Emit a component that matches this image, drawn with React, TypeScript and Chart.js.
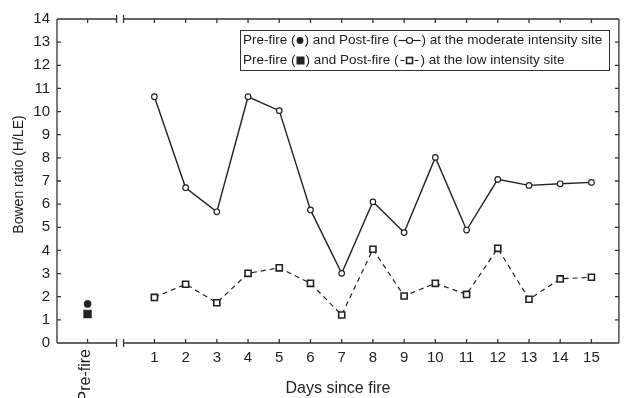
import React, { useEffect, useRef } from "react";
import { Chart, registerables } from "chart.js";

Chart.register(...registerables);

// ---- data ----
const DAYS = [1, 2, 3, 4, 5, 6, 7, 8, 9, 10, 11, 12, 13, 14, 15];
const MODERATE_POST = [10.64, 6.71, 5.67, 10.64, 10.04, 5.75, 3.01, 6.1, 4.77, 8.02, 4.88, 7.07, 6.81, 6.88, 6.94];
const LOW_POST = [1.97, 2.54, 1.74, 3.01, 3.25, 2.58, 1.21, 4.05, 2.03, 2.58, 2.1, 4.09, 1.89, 2.77, 2.84];
const PREFIRE_LABEL = "Pre-fire";
const PREFIRE_MODERATE = [1.69];
const PREFIRE_LOW = [1.25];
const Y_TICKS = [0, 1, 2, 3, 4, 5, 6, 7, 8, 9, 10, 11, 12, 13, 14];
const X_TITLE = "Days since fire";
const Y_TITLE = "Bowen ratio (H/LE)";
const LEGEND_ROW1 = ["Pre-fire (", "dot", ") and Post-fire (", "lineCircle", ") at the moderate intensity site"];
const LEGEND_ROW2 = ["Pre-fire (", "square", ") and Post-fire (", "dashSquare", ") at the low intensity site"];

// axis layout (value space)
const PREFIRE_X = -1.14;
const BREAK_X = -0.1;
const X_MIN = -2.12;
const X_MAX = 15.88;

const FONT = "'Liberation Sans', Arial, Helvetica, sans-serif";
const INK = "#222";

const framePlugin = {
  id: "frame",
  afterDraw(chart: any) {
    const { ctx, chartArea: a, scales } = chart;
    const xs = scales.x;
    const ys = scales.y;
    ctx.save();
    ctx.strokeStyle = "#333";
    ctx.lineWidth = 1.3;
    const bx = xs.getPixelForValue(BREAK_X);
    const gap = 3.5;
    // frame with break on top and bottom
    ctx.beginPath();
    ctx.moveTo(a.left, a.top);
    ctx.lineTo(a.left, a.bottom);
    ctx.moveTo(a.right, a.top);
    ctx.lineTo(a.right, a.bottom);
    for (const yy of [a.top, a.bottom]) {
      ctx.moveTo(a.left, yy);
      ctx.lineTo(bx - gap, yy);
      ctx.moveTo(bx + gap, yy);
      ctx.lineTo(a.right, yy);
      ctx.moveTo(bx - gap, yy - 4);
      ctx.lineTo(bx - gap, yy + 4);
      ctx.moveTo(bx + gap, yy - 4);
      ctx.lineTo(bx + gap, yy + 4);
    }
    // inward ticks
    const tl = 4;
    const xticks = [PREFIRE_X, ...DAYS];
    for (const v of xticks) {
      const px = xs.getPixelForValue(v);
      ctx.moveTo(px, a.bottom);
      ctx.lineTo(px, a.bottom - tl);
      ctx.moveTo(px, a.top);
      ctx.lineTo(px, a.top + tl);
    }
    for (const v of Y_TICKS) {
      const py = ys.getPixelForValue(v);
      ctx.moveTo(a.left, py);
      ctx.lineTo(a.left + tl, py);
      ctx.moveTo(a.right, py);
      ctx.lineTo(a.right - tl, py);
    }
    ctx.stroke();

    // Pre-fire rotated tick label
    ctx.fillStyle = INK;
    ctx.font = `16px ${FONT}`;
    ctx.save();
    ctx.translate(xs.getPixelForValue(PREFIRE_X) - 2, a.bottom + 6);
    ctx.rotate(-Math.PI / 2);
    ctx.textAlign = "right";
    ctx.textBaseline = "middle";
    ctx.fillText(PREFIRE_LABEL, 0, 0);
    ctx.restore();

    // Y title
    ctx.save();
    ctx.font = `14px ${FONT}`;
    ctx.translate(19, 174.5);
    ctx.rotate(-Math.PI / 2);
    ctx.textAlign = "center";
    ctx.textBaseline = "middle";
    ctx.fillText(Y_TITLE, 0, 0);
    ctx.restore();

    // Legend box
    const boxL = 240, boxT = 30, boxR = 609, boxB = 70;
    ctx.fillStyle = "#fff";
    ctx.fillRect(boxL, boxT, boxR - boxL, boxB - boxT);
    ctx.lineWidth = 1;
    ctx.strokeStyle = "#333";
    ctx.strokeRect(boxL + 0.5, boxT + 0.5, boxR - boxL, boxB - boxT);
    ctx.font = `13.5px ${FONT}`;
    ctx.textAlign = "left";
    ctx.textBaseline = "middle";
    const drawRow = (parts: string[], y: number) => {
      let x = 243;
      for (const p of parts) {
        if (p === "dot") {
          ctx.fillStyle = INK;
          ctx.beginPath();
          ctx.arc(x + 4.5, y, 3.4, 0, Math.PI * 2);
          ctx.fill();
          x += 9;
        } else if (p === "square") {
          ctx.fillStyle = INK;
          ctx.fillRect(x + 1, y - 4, 8, 8);
          x += 10;
        } else if (p === "lineCircle") {
          ctx.strokeStyle = INK;
          ctx.lineWidth = 1.2;
          ctx.beginPath();
          ctx.moveTo(x + 1, y);
          ctx.lineTo(x + 23, y);
          ctx.stroke();
          ctx.fillStyle = "#fff";
          ctx.beginPath();
          ctx.arc(x + 12, y, 3, 0, Math.PI * 2);
          ctx.fill();
          ctx.stroke();
          x += 24;
        } else if (p === "dashSquare") {
          ctx.strokeStyle = INK;
          ctx.lineWidth = 1.2;
          ctx.beginPath();
          ctx.moveTo(x + 2, y);
          ctx.lineTo(x + 6, y);
          ctx.moveTo(x + 16, y);
          ctx.lineTo(x + 20, y);
          ctx.stroke();
          ctx.lineWidth = 1.6;
          ctx.strokeRect(x + 8, y - 3, 6, 6);
          x += 22;
        } else {
          ctx.fillStyle = INK;
          ctx.fillText(p, x, y);
          x += ctx.measureText(p).width;
        }
      }
    };
    drawRow(LEGEND_ROW1, 40.5);
    drawRow(LEGEND_ROW2, 60.5);
    ctx.restore();
  },
};

export default function App() {
  const ref = useRef<HTMLCanvasElement | null>(null);
  useEffect(() => {
    if (!ref.current) return;
    const chart = new Chart(ref.current, {
      type: "line",
      data: {
        datasets: [
          {
            label: "Post-fire moderate",
            data: DAYS.map((d, i) => ({ x: d, y: MODERATE_POST[i] })),
            borderColor: INK,
            borderWidth: 1.4,
            pointStyle: "circle",
            pointRadius: 2.8,
            pointBorderWidth: 1.2,
            pointBackgroundColor: "#fff",
            pointBorderColor: INK,
            tension: 0,
          },
          {
            label: "Post-fire low",
            data: DAYS.map((d, i) => ({ x: d, y: LOW_POST[i] })),
            borderColor: INK,
            borderWidth: 1.2,
            borderDash: [5, 4],
            pointStyle: "rect",
            pointRadius: 4.3,
            pointBorderWidth: 1.6,
            pointBackgroundColor: "#fff",
            pointBorderColor: INK,
            tension: 0,
          },
          {
            label: "Pre-fire moderate",
            data: PREFIRE_MODERATE.map((v) => ({ x: PREFIRE_X, y: v })),
            showLine: false,
            pointStyle: "circle",
            pointRadius: 3.6,
            pointBackgroundColor: INK,
            pointBorderColor: INK,
            pointBorderWidth: 0.5,
          },
          {
            label: "Pre-fire low",
            data: PREFIRE_LOW.map((v) => ({ x: PREFIRE_X, y: v })),
            showLine: false,
            pointStyle: "rect",
            pointRadius: 5.6,
            pointBackgroundColor: INK,
            pointBorderColor: INK,
            pointBorderWidth: 0.5,
          },
        ],
      },
      options: {
        animation: false,
        responsive: false,
        devicePixelRatio: 1,
        layout: { padding: { top: 19, right: 3, left: 0, bottom: 0 } },
        plugins: { legend: { display: false }, tooltip: { enabled: false } },
        scales: {
          x: {
            type: "linear",
            min: X_MIN,
            max: X_MAX,
            afterBuildTicks: (s: any) => {
              s.ticks = [PREFIRE_X, ...DAYS].map((v) => ({ value: v }));
            },
            afterFit: (s: any) => {
              s.height = 55;
            },
            grid: { display: false, drawTicks: false, tickLength: 0 },
            border: { display: false },
            ticks: {
              autoSkip: false,
              maxRotation: 0,
              minRotation: 0,
              padding: 6,
              color: INK,
              font: { family: FONT, size: 15 },
              callback: (v: any) => (v === PREFIRE_X ? "" : String(v)),
            },
            title: {
              display: true,
              text: X_TITLE,
              color: INK,
              font: { family: FONT, size: 16 },
              padding: { top: 0, bottom: 0 },
            },
          },
          y: {
            type: "linear",
            min: 0,
            max: 14,
            afterBuildTicks: (s: any) => {
              s.ticks = Y_TICKS.map((v) => ({ value: v }));
            },
            afterFit: (s: any) => {
              s.width = 57;
            },
            grid: { display: false, drawTicks: false, tickLength: 0 },
            border: { display: false },
            ticks: {
              padding: 7,
              color: INK,
              font: { family: FONT, size: 15 },
            },
          },
        },
      },
      plugins: [framePlugin],
    });
    return () => chart.destroy();
  }, []);
  return (
    <div style={{ position: "absolute", left: 0, top: 0, width: 625, height: 398, background: "#fff" }}>
      <canvas ref={ref} width={625} height={398} />
    </div>
  );
}
